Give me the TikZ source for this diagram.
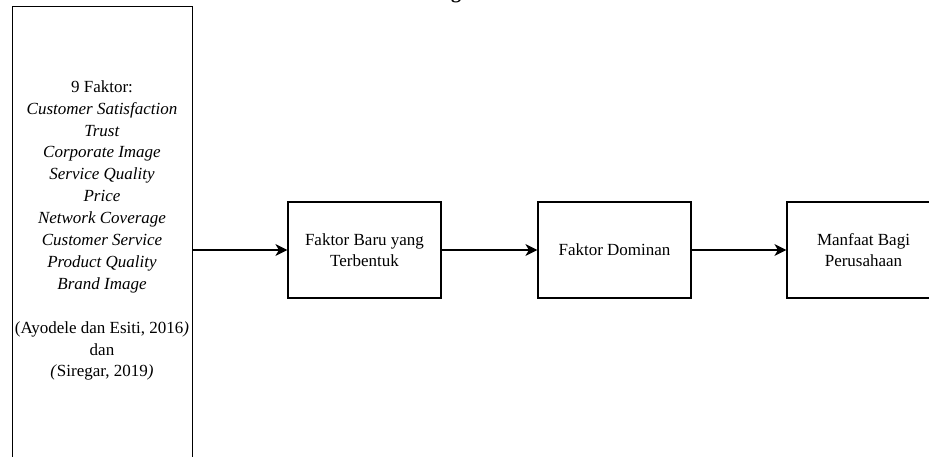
\documentclass[tikz,border=0pt]{standalone}
\usepackage{fontspec}
\setmainfont{Liberation Serif}
\usetikzlibrary{arrows.meta}
\tikzset{
  box/.style={draw=black, line width=1.2pt, rectangle, inner sep=0pt, align=center,
    minimum width=153pt, minimum height=96pt, font=\fontsize{17}{20.5}\selectfont},
  arr/.style={draw=black, line width=1.3pt, -{Stealth[length=12pt,width=12pt,inset=3.5pt]}},
  txt/.style={inner sep=0pt, align=center, font=\fontsize{17}{21.9}\selectfont}
}
\begin{document}
\begin{tikzpicture}[x=1pt,y=1pt]
  \useasboundingbox (0,0) rectangle (929,-457);
  \clip (0,0) rectangle (929,-457);
  % cut-off title fragment
  \node[anchor=base, inner sep=0pt, font=\fontsize{20}{22}\selectfont\bfseries] (title) at (456,1.5) {g};
  % left tall box
  \node[draw=black, line width=1.2pt, rectangle, inner sep=0pt,
        minimum width=180pt, minimum height=470pt, anchor=north west] (left) at (12,-6) {};
  \node[txt] (lefttext) at (102,-230.5) {9 Faktor:\\
    \textit{Customer Satisfaction}\\
    \textit{Trust}\\
    \textit{Corporate Image}\\
    \textit{Service Quality}\\
    \textit{Price}\\
    \textit{Network Coverage}\\
    \textit{Customer Service}\\
    \textit{Product Quality}\\
    \textit{Brand Image}\\
    \mbox{}\\
    (Ayodele dan Esiti, 2016\textit{)}\\
    dan\\
    \textit{(}Siregar, 2019\textit{)}};
  \node[box] (b2) at (364.5,-250) {Faktor Baru yang\\Terbentuk};
  \node[box] (b3) at (614.5,-250) {Faktor Dominan};
  \node[box] (b4) at (863.5,-250) {Manfaat Bagi\\Perusahaan};
  \draw[arr] (b2.west -| left.east) -- (b2.west);
  \draw[arr] (b2.east) -- (b3.west);
  \draw[arr] (b3.east) -- (b4.west);
\end{tikzpicture}
\end{document}
